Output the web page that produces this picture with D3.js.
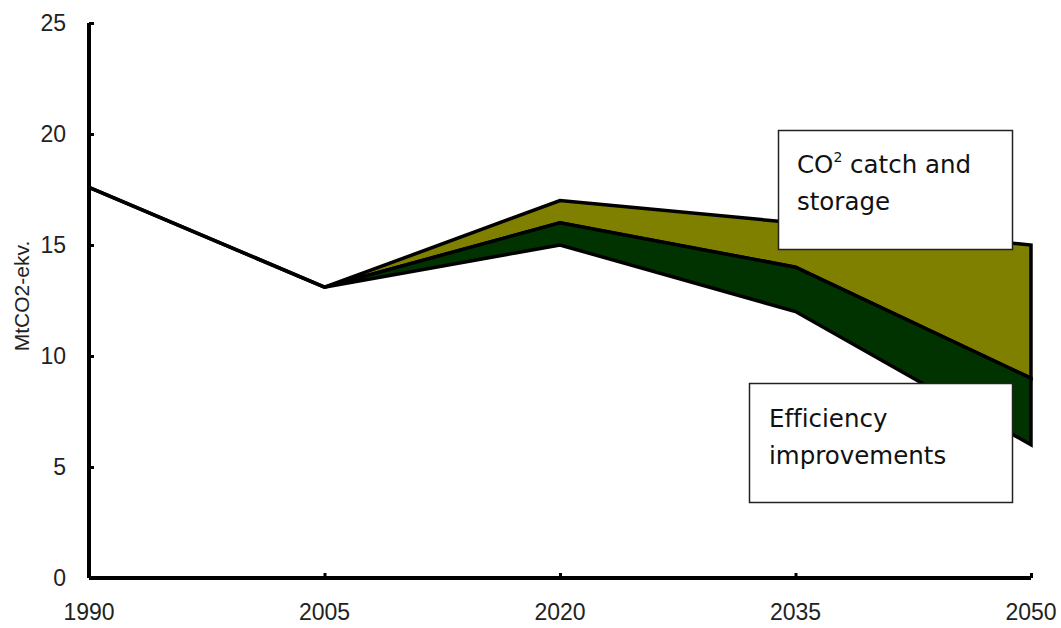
<!DOCTYPE html>
<html><head><meta charset="utf-8">
<script src="https://cdn.jsdelivr.net/npm/d3@7/dist/d3.min.js"></script>
<style>body{margin:0;background:#fff;}svg{display:block;}text{font-variant-ligatures:none;}</style>
</head><body>
<svg id="c" width="1061" height="628"></svg>
<script>
const years = [1990, 2005, 2020, 2035, 2050];
const baseline = [17.6, 13.1, 15, 12, 6];
const efficiencyTop = [17.6, 13.1, 16, 14, 9];
const ccsTop = [17.6, 13.1, 17, 16, 15];
const yTicks = [0, 5, 10, 15, 20, 25];
const xTicks = [1990, 2005, 2020, 2035, 2050];
const yLabel = "MtCO2-ekv.";

const svg = d3.select("#c");
const x = d3.scaleLinear().domain([1990, 2050]).range([89, 1031]);
const y = d3.scaleLinear().domain([0, 25]).range([578, 23]);

const poly = (lo, hi) => {
  const pts = years.map((yr, i) => [x(yr), y(hi[i])]).concat(years.map((yr, i) => [x(yr), y(lo[i])]).reverse());
  return "M" + pts.map(p => p.join(",")).join("L") + "Z";
};

svg.append("path").attr("d", poly(efficiencyTop, ccsTop)).attr("fill", "#808000").attr("stroke", "#000").attr("stroke-width", 3.5).attr("stroke-linejoin", "miter");
svg.append("path").attr("d", poly(baseline, efficiencyTop)).attr("fill", "#003300").attr("stroke", "#000").attr("stroke-width", 3.5).attr("stroke-linejoin", "miter");

// axes
const yAxis = d3.axisRight(y).tickValues(yTicks).tickSize(5).tickFormat("");
const gy = svg.append("g").attr("transform", "translate(89,0)").call(yAxis);
gy.select(".domain").attr("stroke", "#000").attr("stroke-width", 4).attr("d", `M0,${y(25)}V${y(0)}`);
gy.selectAll(".tick line").attr("stroke", "#000").attr("stroke-width", 3);

const xAxis = d3.axisTop(x).tickValues(xTicks.slice(1)).tickSize(5).tickFormat("");
const gx = svg.append("g").attr("transform", `translate(0,${y(0)})`).call(xAxis);
gx.select(".domain").attr("stroke", "#000").attr("stroke-width", 4).attr("d", `M${x(1990)},0H${x(2050)}`);
gx.selectAll(".tick line").attr("stroke", "#000").attr("stroke-width", 3);

svg.append("g").selectAll("text").data(yTicks).join("text")
  .attr("x", 66).attr("y", d => y(d) + 8).attr("text-anchor", "end")
  .attr("font-family", "Liberation Sans, Arial, sans-serif").attr("font-size", 23).attr("fill", "#222").text(d => d);
svg.append("g").selectAll("text").data(xTicks).join("text")
  .attr("x", d => x(d)).attr("y", 620).attr("text-anchor", "middle")
  .attr("font-family", "Liberation Sans, Arial, sans-serif").attr("font-size", 23).attr("fill", "#222").text(d => d);
svg.append("text").attr("transform", "translate(29,296) rotate(-90)").attr("text-anchor", "middle")
  .attr("font-family", "Liberation Sans, Arial, sans-serif").attr("font-size", 21).attr("fill", "#222").text(yLabel);

// annotation boxes
function box(x0, y0, w, h, lines, tx, ty) {
  svg.append("rect").attr("x", x0).attr("y", y0).attr("width", w).attr("height", h)
    .attr("fill", "#fff").attr("stroke", "#222").attr("stroke-width", 1.5);
  const t = svg.append("text").attr("font-family", "DejaVu Sans, sans-serif").attr("font-size", 24.5).attr("fill", "#111");
  lines.forEach((ln, i) => {
    const tl = t.append("tspan").attr("x", tx).attr("y", ty + i * 37);
    if (Array.isArray(ln)) {
      ln.forEach(seg => {
        const s = tl.append("tspan").text(seg.t);
        if (seg.sup) s.attr("font-size", 14).attr("dy", -11);
        if (seg.after) s.attr("dy", 11);
      });
    } else tl.text(ln);
  });
}
box(778.5, 130.5, 234, 119, [[{t: "CO"}, {t: "2", sup: true}, {t: " catch and", after: true}], "storage"], 797, 173);
box(749.5, 383.5, 263, 119, ["Efficiency", "improvements"], 769, 427);
</script>
</body></html>
